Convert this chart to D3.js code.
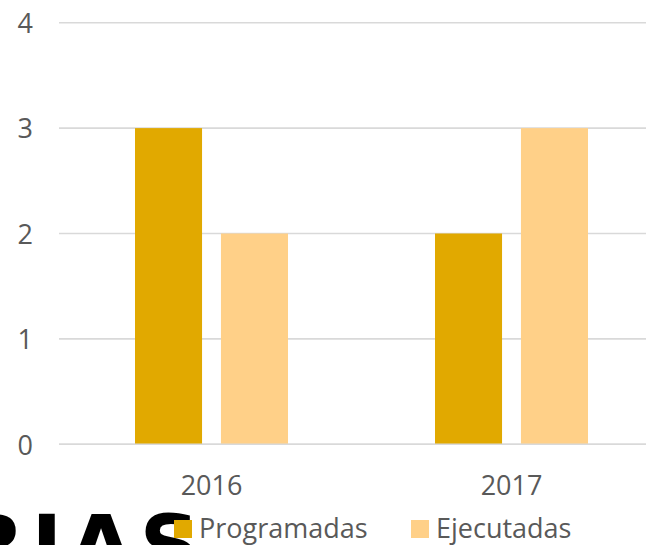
<!DOCTYPE html>
<html>
<head>
<meta charset="utf-8">
<script src="https://cdn.jsdelivr.net/npm/d3@7"></script>
<style>
  body { margin: 0; background: #fff; }
  svg { display: block; }
  text { font-family: "Open Sans", sans-serif; fill: #595959; }
</style>
</head>
<body>
<svg width="646" height="545"></svg>
<script>
var years = ['2016', '2017'];
var seriesNames = ['Programadas', 'Ejecutadas'];
var programadas = [3, 2];
var ejecutadas = [2, 3];
var yTicks = [0, 1, 2, 3, 4];

var colors = {Programadas: '#E1A900', Ejecutadas: '#FFD088'};

var rows = years.map(function (y, i) {
    return {year: y, Programadas: programadas[i], Ejecutadas: ejecutadas[i]};
});

var svg = d3.select('svg');

var x0 = d3.scaleBand()
    .domain(years)
    .range([61.5, 661.5])
    .paddingInner(0.49)
    .paddingOuter(0.245);

var x1 = d3.scaleBand()
    .domain(seriesNames)
    .range([0, x0.bandwidth()])
    .paddingInner(0.22);

var y = d3.scaleLinear()
    .domain([0, 4])
    .range([444.3, 22.7]);

// gridlines
svg.append('g')
    .selectAll('line')
    .data(yTicks)
    .enter()
    .append('line')
    .attr('x1', 59)
    .attr('x2', 646)
    .attr('y1', function (d) { return y(d); })
    .attr('y2', function (d) { return y(d); })
    .attr('stroke', '#d9d9d9')
    .attr('stroke-width', 1.6);

// y labels
var yAxis = svg.append('g')
    .attr('transform', 'translate(33,0)')
    .call(d3.axisLeft(y).tickValues(yTicks).tickFormat(d3.format('d')).tickSize(0).tickPadding(0));
yAxis.select('.domain').remove();
yAxis.selectAll('text')
    .attr('font-size', 27)
    .attr('font-family', '"Open Sans", sans-serif')
    .attr('fill', '#595959')
    .attr('dy', '0.36em');

// bars
var groups = svg.append('g')
    .selectAll('g')
    .data(rows)
    .enter()
    .append('g')
    .attr('transform', function (d) { return 'translate(' + x0(d.year) + ',0)'; });

groups.selectAll('rect')
    .data(function (d) {
        return seriesNames.map(function (s) { return {key: s, value: d[s]}; });
    })
    .enter()
    .append('rect')
    .attr('x', function (d) { return x1(d.key); })
    .attr('y', function (d) { return y(d.value); })
    .attr('width', x1.bandwidth())
    .attr('height', function (d) { return y(0) - y(d.value); })
    .attr('fill', function (d) { return colors[d.key]; });

// redraw baseline over bars
svg.append('line')
    .attr('x1', 59).attr('x2', 646)
    .attr('y1', y(0)).attr('y2', y(0))
    .attr('stroke', '#d9d9d9')
    .attr('stroke-width', 1.6);

// x labels
var xCenter = d3.scaleBand().domain(years).range([61.5, 661.5]);
var xAxis = svg.append('g')
    .attr('transform', 'translate(0,' + y(0) + ')')
    .call(d3.axisBottom(xCenter).tickSize(0).tickPadding(0));
xAxis.select('.domain').remove();
xAxis.selectAll('text')
    .attr('font-size', 27)
    .attr('font-family', '"Open Sans", sans-serif')
    .attr('fill', '#595959')
    .attr('dy', null)
    .attr('y', 51);

// stray heading text cropped at the bottom
svg.append('text')
    .attr('x', 206)
    .attr('y', 575)
    .attr('text-anchor', 'end')
    .style('font-family', '"DejaVu Sans", sans-serif')
    .style('font-weight', 'bold')
    .style('font-size', '84px')
    .style('letter-spacing', '6px')
    .style('fill', '#000')
    .text('RIAS');

// legend
var legendX = [174, 411];
var legend = svg.append('g')
    .selectAll('g')
    .data(seriesNames)
    .enter()
    .append('g')
    .attr('transform', function (d, i) { return 'translate(' + legendX[i] + ',520)'; });

legend.append('rect')
    .attr('width', 18)
    .attr('height', 18)
    .attr('fill', function (d) { return colors[d]; });

legend.append('text')
    .attr('x', 25)
    .attr('y', 18)
    .attr('font-size', 27)
    .text(function (d) { return d; });
</script>
</body>
</html>
